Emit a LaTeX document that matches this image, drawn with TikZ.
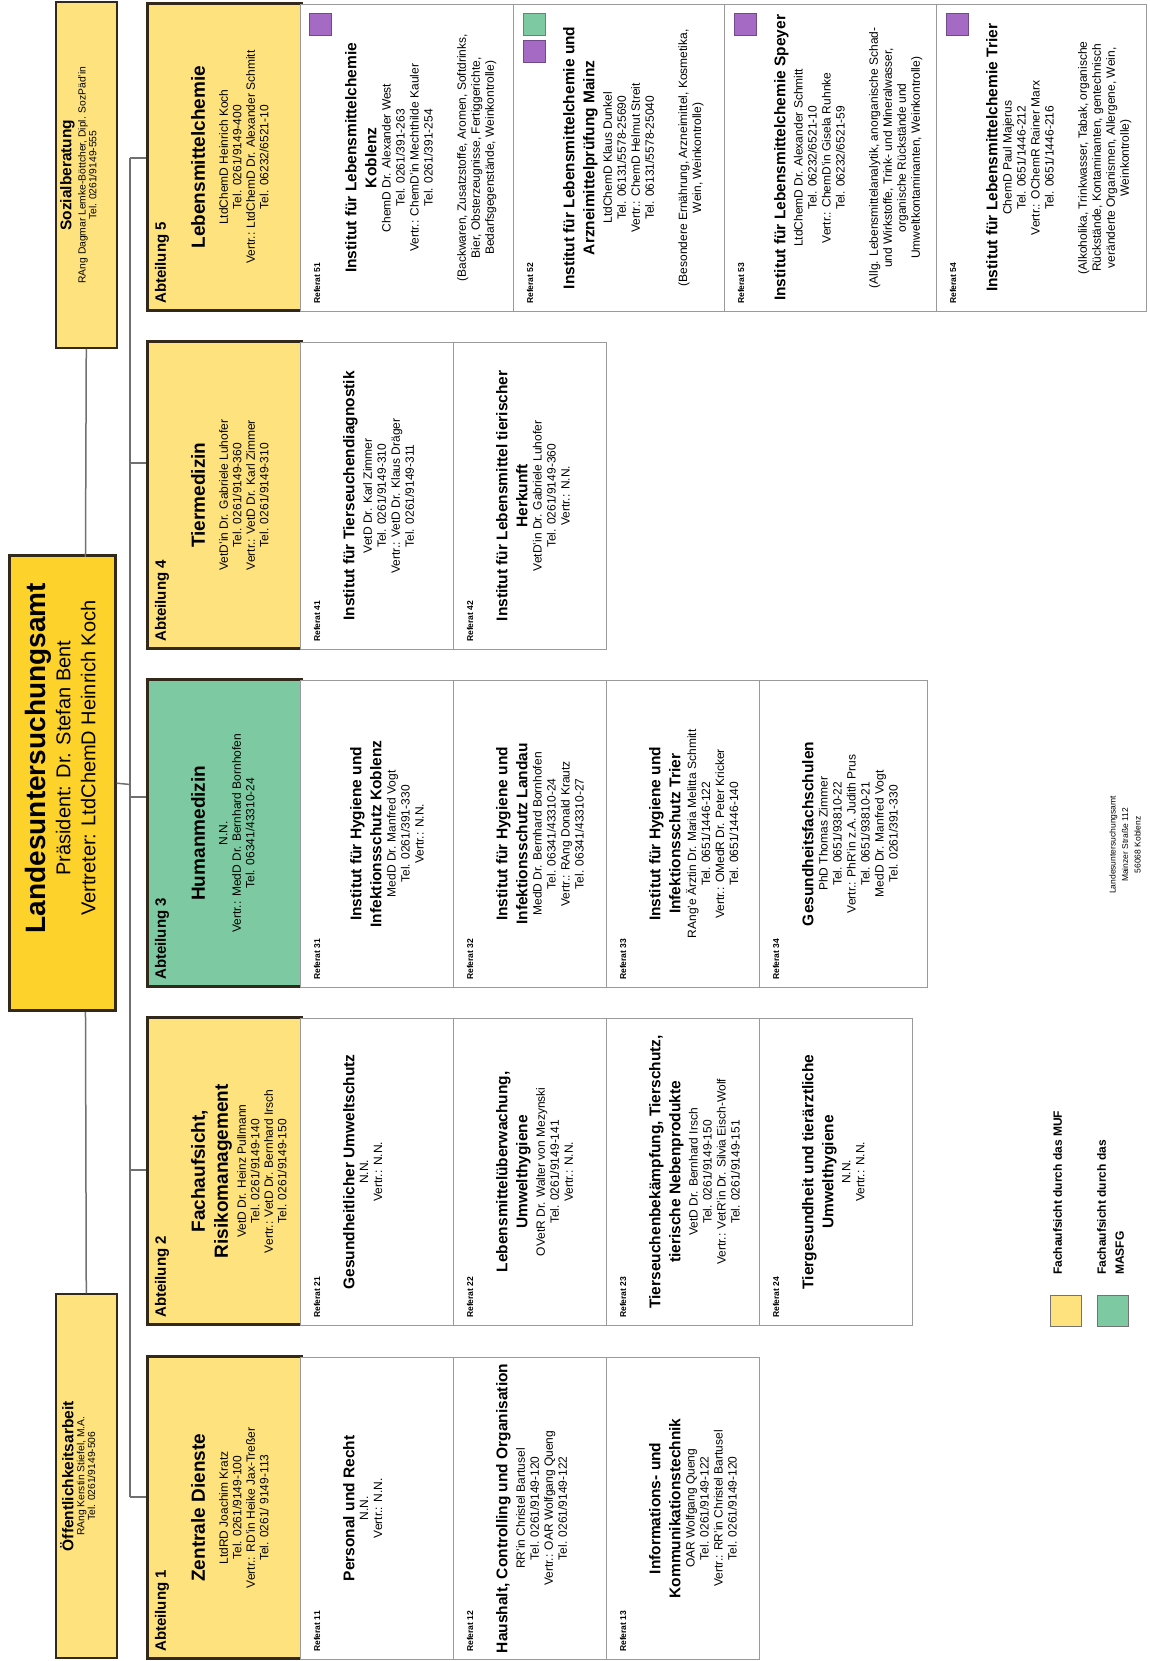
\documentclass[tikz,border=0pt]{standalone}
\usepackage{fontspec}
\setmainfont{Liberation Sans}
\usetikzlibrary{calc}

\definecolor{abtyellow}{HTML}{FDE27E}
\definecolor{headyellow}{HTML}{FDD22B}
\definecolor{abtgreen}{HTML}{7CC9A2}
\definecolor{tagpurple}{HTML}{A46AC4}
\definecolor{framecol}{HTML}{33291A}
\definecolor{refgray}{HTML}{9A9A9A}
\definecolor{linegray}{HTML}{707070}

\begin{document}
\begin{tikzpicture}[x=1pt, y=1pt, rotate=90, transform shape,
    conn/.style={draw=linegray, line width=1.5},
    staffbox/.style={draw=framecol, line width=1.6, fill=abtyellow, anchor=north west, minimum height=61, inner sep=0},
    staffname/.style={font=\fontsize{15.5}{17}\selectfont\bfseries, anchor=north, inner sep=0},
    staffbody/.style={font=\fontsize{10.3}{10.8}\selectfont, align=center, anchor=north, inner sep=0},
    headbox/.style={draw=framecol, line width=2.6, fill=headyellow, anchor=north west, minimum width=455, minimum height=106, inner sep=0},
    headname/.style={font=\fontsize{28}{32}\selectfont\bfseries, anchor=north, inner sep=0},
    headsub/.style={font=\fontsize{20}{25}\selectfont, align=center, anchor=north, inner sep=0},
    abtbox/.style={draw=framecol, line width=2.6, fill=abtyellow, anchor=north west, minimum width=307, minimum height=154, inner sep=0},
    abtlabel/.style={font=\fontsize{15}{16}\selectfont\bfseries, anchor=west, inner sep=0},
    abtname/.style={font=\fontsize{19}{23}\selectfont\bfseries, align=center, anchor=north, inner sep=0},
    abtbody/.style={font=\fontsize{12}{13.5}\selectfont, align=center, anchor=north, inner sep=0},
    refbox/.style={draw=refgray, line width=1.2, fill=white, anchor=north west, minimum width=307, minimum height=153, inner sep=0},
    reflabel/.style={font=\fontsize{8.5}{10}\selectfont\bfseries, anchor=west, inner sep=0},
    refhead/.style={font=\fontsize{15.5}{20}\selectfont\bfseries, align=center, anchor=north, inner sep=0},
    refbody/.style={font=\fontsize{12}{14}\selectfont, align=center, anchor=north, inner sep=0},
    tagsq/.style={draw=tagpurple!70!black, line width=0.8, anchor=north east, minimum size=22, inner sep=0},
    legsq/.style={draw=black!55, line width=0.8, anchor=north west, minimum size=31, inner sep=0},
    legtext/.style={font=\fontsize{12}{18}\selectfont\bfseries, align=left, anchor=north west, inner sep=0},
    addr/.style={font=\fontsize{8.5}{12.5}\selectfont, align=center, inner sep=0}]

  \useasboundingbox (0,0) rectangle (1661,1149);

  % Leitung und Stabsstellen
  \node[headbox] (lua) at (649,1141) {};
  \node[headname] (luan) at ($(lua.north)+(25,-17)$) {Landesuntersuchungsamt};
  \node[headsub] (luas) at ($(luan.south)+(0,-4)$) {Präsident: Dr. Stefan Bent\\Vertreter: LtdChemD Heinrich Koch};

  \node[staffbox, minimum width=346] (sozial) at (1312,1094) {};
  \node[staffname] (sozialn) at ($(sozial.north)+(0,-5)$) {Sozialberatung};
  \node[staffbody] (sozialb) at ($(sozialn.south)+(0,-3)$) {RAng Dagmar Lemke-Böttcher, Dipl. SozPäd'in\\Tel. 0261/9149-555};

  \node[staffbox, minimum width=364] (oeff) at (2,1094) {};
  \node[staffname] (oeffn) at ($(oeff.north)+(0,-5)$) {Öffentlichkeitsarbeit};
  \node[staffbody] (oeffb) at ($(oeffn.south)+(0,-3)$) {RAng Kerstin Stiefel, M.A.\\Tel. 0261/9149-506};

  % Abteilungen
  \node[abtbox, minimum width=302] (abt1) at (1,1003) {};
  \node[abtbox] (abt2) at (335,1003) {};
  \node[abtbox, fill=abtgreen] (abt3) at (673,1003) {};
  \node[abtbox] (abt4) at (1011,1003) {};
  \node[abtbox] (abt5) at (1349,1003) {};

  % Verbindungen
  \coordinate (oeffjoin) at (649,1063.5);
  \coordinate (sozialjoin) at (1104,1063.5);
  \coordinate (luajoin) at (876.5,1019);
  \coordinate (bus1) at (164,1019);
  \coordinate (bus2) at (491,1019);
  \coordinate (bus3) at (864,1019);
  \coordinate (bus4) at (1198,1019);
  \coordinate (bus5) at (1503,1019);
  \coordinate (drop1) at (164,1003);
  \coordinate (drop2) at (491,1003);
  \coordinate (drop3) at (864,1003);
  \coordinate (drop4) at (1198,1003);
  \coordinate (drop5) at (1503,1003);
  \draw[conn] (oeff.east) -- (oeffjoin);
  \draw[conn] (sozial.west) -- (sozialjoin);
  \draw[conn] (lua.south) -- (luajoin);
  \draw[conn] (bus1) -- (bus5);
  \draw[conn] (bus1) -- (drop1);
  \draw[conn] (bus2) -- (drop2);
  \draw[conn] (bus3) -- (drop3);
  \draw[conn] (bus4) -- (drop4);
  \draw[conn] (bus5) -- (drop5);

  \node[abtlabel] (abt1l) at ($(abt1.north west)+(8,-16)$) {Abteilung 1};
  \node[abtname] (abt1n) at ($(abt1.north)+(0,-45)$) {Zentrale Dienste};
  \node[abtbody] (abt1b) at ($(abt1.north)+(0,-73)$) {LtdRD Joachim Kratz\\Tel. 0261/9149-100\\Vertr.: RD'in Heike Jax-Treßer\\Tel. 0261/ 9149-113};

  \node[abtlabel] (abt2l) at ($(abt2.north west)+(8,-16)$) {Abteilung 2};
  \node[abtname] (abt2n) at ($(abt2.north)+(0,-45)$) {Fachaufsicht,\\Risikomanagement};
  \node[abtbody] (abt2b) at ($(abt2.north)+(0,-91)$) {VetD Dr. Heinz Pullmann\\Tel. 0261/9149-140\\Vertr.: VetD Dr. Bernhard Irsch\\Tel. 0261/9149-150};

  \node[abtlabel] (abt3l) at ($(abt3.north west)+(8,-16)$) {Abteilung 3};
  \node[abtname] (abt3n) at ($(abt3.north)+(0,-45)$) {Humanmedizin};
  \node[abtbody] (abt3b) at ($(abt3.north)+(0,-73)$) {N.N.\\Vertr.: MedD Dr. Bernhard Bornhofen\\Tel. 06341/43310-24};

  \node[abtlabel] (abt4l) at ($(abt4.north west)+(8,-16)$) {Abteilung 4};
  \node[abtname] (abt4n) at ($(abt4.north)+(0,-45)$) {Tiermedizin};
  \node[abtbody] (abt4b) at ($(abt4.north)+(0,-73)$) {VetD'in Dr. Gabriele Luhofer\\Tel. 0261/9149-360\\Vertr.: VetD Dr. Karl Zimmer\\Tel. 0261/9149-310};

  \node[abtlabel] (abt5l) at ($(abt5.north west)+(8,-16)$) {Abteilung 5};
  \node[abtname] (abt5n) at ($(abt5.north)+(0,-45)$) {Lebensmittelchemie};
  \node[abtbody] (abt5b) at ($(abt5.north)+(0,-73)$) {LtdChemD Heinrich Koch\\Tel. 0261/9149-400\\Vertr.: LtdChemD Dr. Alexander Schmitt\\Tel. 06232/6521-10};

  % Referate Abteilung 1
  \node[refbox, minimum width=302] (r11) at (1,849) {};
  \node[refbox, minimum width=302] (r12) at (1,696) {};
  \node[refbox, minimum width=302] (r13) at (1,543) {};
  \node[reflabel] (r11l) at ($(r11.north west)+(8,-17)$) {Referat 11};
  \node[refhead] (r11h) at ($(r11.north)+(0,-43)$) {Personal und Recht};
  \node[refbody] (r11b) at ($(r11h.south)+(0,-5)$) {N.N.\\Vertr.: N.N.};
  \node[reflabel] (r12l) at ($(r12.north west)+(8,-17)$) {Referat 12};
  \node[refhead] (r12h) at ($(r12.north)+(0,-43)$) {Haushalt, Controlling und Organisation};
  \node[refbody] (r12b) at ($(r12h.south)+(0,-5)$) {RR'in Christel Bartusel\\Tel. 0261/9149-120\\Vertr.: OAR Wolfgang Queng\\Tel. 0261/9149-122};
  \node[reflabel] (r13l) at ($(r13.north west)+(8,-17)$) {Referat 13};
  \node[refhead] (r13h) at ($(r13.north)+(0,-43)$) {Informations- und\\Kommunikationstechnik};
  \node[refbody] (r13b) at ($(r13h.south)+(0,-5)$) {OAR Wolfgang Queng\\Tel. 0261/9149-122\\Vertr.: RR'in Christel Bartusel\\Tel. 0261/9149-120};

  % Referate Abteilung 2
  \node[refbox] (r21) at (335,849) {};
  \node[refbox] (r22) at (335,696) {};
  \node[refbox] (r23) at (335,543) {};
  \node[refbox] (r24) at (335,390) {};
  \node[reflabel] (r21l) at ($(r21.north west)+(8,-17)$) {Referat 21};
  \node[refhead] (r21h) at ($(r21.north)+(0,-43)$) {Gesundheitlicher Umweltschutz};
  \node[refbody] (r21b) at ($(r21h.south)+(0,-5)$) {N.N.\\Vertr.: N.N.};
  \node[reflabel] (r22l) at ($(r22.north west)+(8,-17)$) {Referat 22};
  \node[refhead] (r22h) at ($(r22.north)+(0,-43)$) {Lebensmittelüberwachung,\\Umwelthygiene};
  \node[refbody] (r22b) at ($(r22h.south)+(0,-5)$) {OVetR Dr. Walter von Mezynski\\Tel. 0261/9149-141\\Vertr.: N.N.};
  \node[reflabel] (r23l) at ($(r23.north west)+(8,-17)$) {Referat 23};
  \node[refhead] (r23h) at ($(r23.north)+(0,-43)$) {Tierseuchenbekämpfung, Tierschutz,\\tierische Nebenprodukte};
  \node[refbody] (r23b) at ($(r23h.south)+(0,-5)$) {VetD Dr. Bernhard Irsch\\Tel. 0261/9149-150\\Vertr.: VetR'in Dr. Silvia Eisch-Wolf\\Tel. 0261/9149-151};
  \node[reflabel] (r24l) at ($(r24.north west)+(8,-17)$) {Referat 24};
  \node[refhead] (r24h) at ($(r24.north)+(0,-43)$) {Tiergesundheit und tierärztliche\\Umwelthygiene};
  \node[refbody] (r24b) at ($(r24h.south)+(0,-5)$) {N.N.\\Vertr.: N.N.};

  % Referate Abteilung 3
  \node[refbox] (r31) at (673,849) {};
  \node[refbox] (r32) at (673,696) {};
  \node[refbox] (r33) at (673,543) {};
  \node[refbox, minimum height=168] (r34) at (673,390) {};
  \node[reflabel] (r31l) at ($(r31.north west)+(8,-17)$) {Referat 31};
  \node[refhead] (r31h) at ($(r31.north)+(0,-50)$) {Institut für Hygiene und\\Infektionsschutz Koblenz};
  \node[refbody] (r31b) at ($(r31h.south)+(0,-5)$) {MedD Dr. Manfred Vogt\\Tel. 0261/391-330\\Vertr.: N.N.};
  \node[reflabel] (r32l) at ($(r32.north west)+(8,-17)$) {Referat 32};
  \node[refhead] (r32h) at ($(r32.north)+(0,-43)$) {Institut für Hygiene und\\Infektionsschutz Landau};
  \node[refbody] (r32b) at ($(r32h.south)+(0,-5)$) {MedD Dr. Bernhard Bornhofen\\Tel. 06341/43310-24\\Vertr.: RAng Donald Krautz\\Tel. 06341/43310-27};
  \node[reflabel] (r33l) at ($(r33.north west)+(8,-17)$) {Referat 33};
  \node[refhead] (r33h) at ($(r33.north)+(0,-43)$) {Institut für Hygiene und\\Infektionsschutz Trier};
  \node[refbody] (r33b) at ($(r33h.south)+(0,-5)$) {RAng'e Ärztin Dr. Maria Melitta Schmitt\\Tel. 0651/1446-122\\Vertr.: OMedR Dr. Peter Kricker\\Tel. 0651/1446-140};
  \node[reflabel] (r34l) at ($(r34.north west)+(8,-17)$) {Referat 34};
  \node[refhead] (r34h) at ($(r34.north)+(0,-43)$) {Gesundheitsfachschulen};
  \node[refbody] (r34b) at ($(r34h.south)+(0,-5)$) {PhD Thomas Zimmer\\Tel. 0651/93810-22\\Vertr.: PhR'in z.A. Judith Prus\\Tel. 0651/93810-21\\MedD Dr. Manfred Vogt\\Tel. 0261/391-330};

  % Referate Abteilung 4
  \node[refbox] (r41) at (1011,849) {};
  \node[refbox] (r42) at (1011,696) {};
  \node[reflabel] (r41l) at ($(r41.north west)+(8,-17)$) {Referat 41};
  \node[refhead] (r41h) at ($(r41.north)+(0,-43)$) {Institut für Tierseuchendiagnostik};
  \node[refbody] (r41b) at ($(r41h.south)+(0,-5)$) {VetD Dr. Karl Zimmer\\Tel. 0261/9149-310\\Vertr.: VetD Dr. Klaus Dräger\\Tel. 0261/9149-311};
  \node[reflabel] (r42l) at ($(r42.north west)+(8,-17)$) {Referat 42};
  \node[refhead] (r42h) at ($(r42.north)+(0,-43)$) {Institut für Lebensmittel tierischer\\Herkunft};
  \node[refbody] (r42b) at ($(r42h.south)+(0,-5)$) {VetD'in Dr. Gabriele Luhofer\\Tel. 0261/9149-360\\Vertr.: N.N.};

  % Referate Abteilung 5
  \node[refbox, minimum height=213] (r51) at (1349,849) {};
  \node[refbox, minimum height=211] (r52) at (1349,636) {};
  \node[refbox, minimum height=212] (r53) at (1349,425) {};
  \node[refbox, minimum height=210] (r54) at (1349,213) {};
  \node[tagsq, fill=tagpurple] (r51q) at ($(r51.north east)+(-9,-9)$) {};
  \node[tagsq, fill=abtgreen, draw=abtgreen!70!black] (r52g) at ($(r52.north east)+(-9,-10)$) {};
  \node[tagsq, fill=tagpurple] (r52q) at ($(r52.north east)+(-36,-10)$) {};
  \node[tagsq, fill=tagpurple] (r53q) at ($(r53.north east)+(-9,-10)$) {};
  \node[tagsq, fill=tagpurple] (r54q) at ($(r54.north east)+(-9,-10)$) {};

  \node[reflabel] (r51l) at ($(r51.north west)+(8,-17)$) {Referat 51};
  \node[refhead] (r51h) at ($(r51.north)+(0,-45)$) {Institut für Lebensmittelchemie\\Koblenz};
  \node[refbody] (r51b) at ($(r51h.south)+(0,-5)$) {ChemD Dr. Alexander West\\Tel. 0261/391-263\\Vertr.: ChemD'in Mechthilde Kauler\\Tel. 0261/391-254};
  \node[refbody] (r51n) at ($(r51b.south)+(0,-24)$) {(Backwaren, Zusatzstoffe, Aromen, Softdrinks,\\Bier, Obsterzeugnisse, Fertiggerichte,\\Bedarfsgegenstände, Weinkontrolle)};
  \node[reflabel] (r52l) at ($(r52.north west)+(8,-17)$) {Referat 52};
  \node[refhead] (r52h) at ($(r52.north)+(0,-50)$) {Institut für Lebensmittelchemie und\\Arzneimittelprüfung Mainz};
  \node[refbody] (r52b) at ($(r52h.south)+(0,-5)$) {LtdChemD Klaus Dunkel\\Tel. 06131/5578-25690\\Vertr.: ChemD Helmut Streit\\Tel. 06131/5578-25040};
  \node[refbody] (r52n) at ($(r52b.south)+(0,-24)$) {(Besondere Ernährung, Arzneimittel, Kosmetika,\\Wein, Weinkontrolle)};
  \node[reflabel] (r53l) at ($(r53.north west)+(8,-17)$) {Referat 53};
  \node[refhead] (r53h) at ($(r53.north)+(0,-50)$) {Institut für Lebensmittelchemie Speyer};
  \node[refbody] (r53b) at ($(r53h.south)+(0,-5)$) {LtdChemD Dr. Alexander Schmitt\\Tel. 06232/6521-10\\Vertr.: ChemD'in Gisela Ruhnke\\Tel. 06232/6521-59};
  \node[refbody] (r53n) at ($(r53b.south)+(0,-24)$) {(Allg. Lebensmittelanalytik, anorganische Schad-\\und Wirkstoffe, Trink- und Mineralwasser,\\organische Rückstände und\\Umweltkontaminanten, Weinkontrolle)};
  \node[reflabel] (r54l) at ($(r54.north west)+(8,-17)$) {Referat 54};
  \node[refhead] (r54h) at ($(r54.north)+(0,-50)$) {Institut für Lebensmittelchemie Trier};
  \node[refbody] (r54b) at ($(r54h.south)+(0,-5)$) {ChemD Paul Majerus\\Tel. 0651/1446-212\\Vertr.: OChemR Rainer Marx\\Tel. 0651/1446-216};
  \node[refbody] (r54n) at ($(r54b.south)+(0,-24)$) {(Alkoholika, Trinkwasser, Tabak, organische\\Rückstände, Kontaminanten, gentechnisch\\veränderte Organismen, Allergene, Wein,\\Weinkontrolle)};

  % Legende und Anschrift
  \node[legsq, fill=abtyellow] (legmuf) at (334,99) {};
  \node[legsq, fill=abtgreen] (legmasfg) at (334,52) {};
  \node[legtext] (legmuft) at ($(legmuf.north east)+(20,-3)$) {Fachaufsicht durch das MUF};
  \node[legtext] (legmasfgt) at ($(legmasfg.north east)+(20,0)$) {Fachaufsicht durch das\\MASFG};
  \node[addr] (anschrift) at (816,24) {Landesuntersuchungsamt\\Mainzer Straße 112\\56068 Koblenz};
\end{tikzpicture}
\end{document}
